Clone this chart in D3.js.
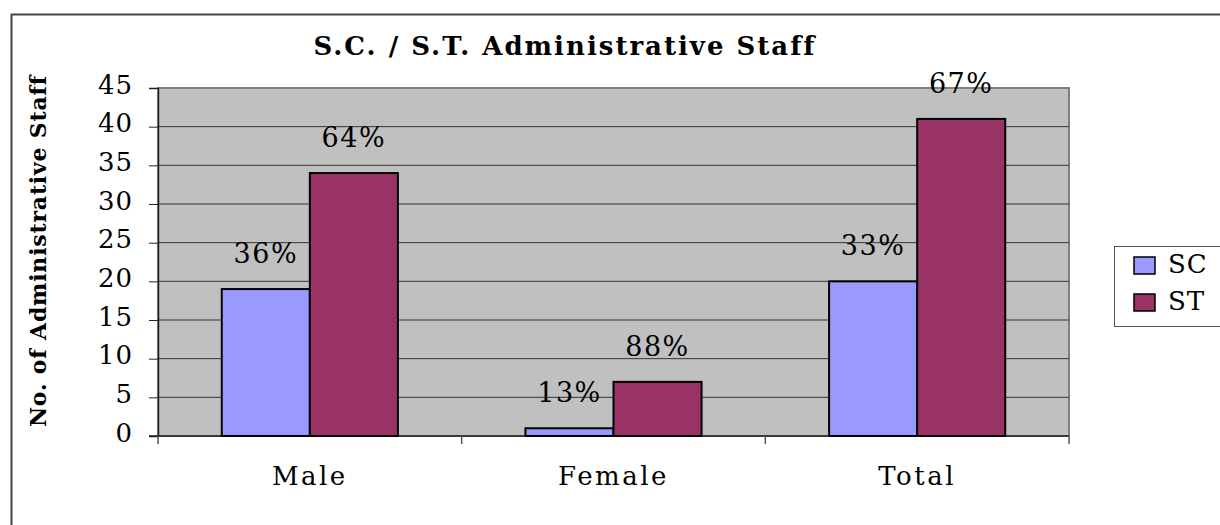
<!DOCTYPE html>
<meta charset="utf-8">
<head>
    <title>S.C. / S.T. Administrative Staff</title>
</head>
<style>
    body { margin: 0; background: #fff; }
    text { font-family: "DejaVu Serif", serif; fill: #000; }
</style>
<div id="chart"></div>
<script src="https://d3js.org/d3.v7.min.js"></script>
<script>

    var categories = ["Male", "Female", "Total"];
    var series = ["SC", "ST"];
    var scValues = [19, 1, 20];
    var stValues = [34, 7, 41];
    var scLabels = ["36%", "13%", "33%"];
    var stLabels = ["64%", "88%", "67%"];
    var yTicks = [0, 5, 10, 15, 20, 25, 30, 35, 40, 45];
    var colors = { SC: "#9999ff", ST: "#993366" };

    var W = 1220, H = 525;
    var plot = { left: 158, top: 88, right: 1069, bottom: 436 };
    var serif = "'DejaVu Serif', serif";

    var svg = d3.select("#chart").append("svg")
        .attr("width", W)
        .attr("height", H);

    // outer chart border (runs off the right/bottom edge)
    svg.append("rect")
        .attr("x", 11.5).attr("y", 14.5)
        .attr("width", 1230).attr("height", 540)
        .attr("fill", "none")
        .attr("stroke", "#444").attr("stroke-width", 2);

    var x0 = d3.scaleBand()
        .domain(categories)
        .range([plot.left, plot.right]);

    var x1 = d3.scaleBand()
        .domain(series)
        .range([0, x0.bandwidth() * 0.58])
        .paddingInner(0);

    var y = d3.scaleLinear()
        .domain([0, 45])
        .range([plot.bottom, plot.top]);

    // plot background
    svg.append("rect")
        .attr("x", plot.left).attr("y", plot.top)
        .attr("width", plot.right - plot.left)
        .attr("height", plot.bottom - plot.top)
        .attr("fill", "#c0c0c0")
        .attr("stroke", "#808080").attr("stroke-width", 2);

    // gridlines
    svg.append("g").selectAll("line")
        .data(yTicks.filter(function(d) { return d > 0 && d < 45; }))
        .join("line")
        .attr("x1", plot.left).attr("x2", plot.right)
        .attr("y1", function(d) { return y(d); })
        .attr("y2", function(d) { return y(d); })
        .attr("stroke", "#333").attr("stroke-width", 1);

    // y axis
    var yAxis = svg.append("g")
        .attr("transform", "translate(" + plot.left + ",0)")
        .call(d3.axisLeft(y).tickValues(yTicks).tickSize(9).tickPadding(16));
    yAxis.select(".domain").attr("stroke", "#222").attr("stroke-width", 1.5);
    yAxis.selectAll(".tick line").attr("stroke", "#222");
    yAxis.selectAll(".tick text")
        .style("font-family", serif)
        .style("font-size", "26px")
        .style("letter-spacing", "1px")
        .attr("dy", "0.2em")
        .attr("fill", "#000");

    // x axis
    var xAxis = svg.append("g")
        .attr("transform", "translate(0," + plot.bottom + ")")
        .call(d3.axisBottom(x0).tickSize(0));
    xAxis.select(".domain").remove();
    xAxis.selectAll(".tick text")
        .attr("y", 49)
        .attr("dy", null)
        .style("font-family", serif)
        .style("font-size", "26px")
        .style("letter-spacing", "2.5px")
        .attr("fill", "#000");
    svg.append("line")
        .attr("x1", plot.left - 9).attr("x2", plot.right)
        .attr("y1", plot.bottom).attr("y2", plot.bottom)
        .attr("stroke", "#222").attr("stroke-width", 1.5);
    // category separators
    svg.append("g").selectAll("line")
        .data(categories.concat(["end"]))
        .join("line")
        .attr("x1", function(d, i) { return plot.left + i * x0.bandwidth(); })
        .attr("x2", function(d, i) { return plot.left + i * x0.bandwidth(); })
        .attr("y1", plot.bottom).attr("y2", plot.bottom + 8)
        .attr("stroke", "#555").attr("stroke-width", 1.5);

    // bars
    var rows = categories.map(function(c, i) {
        return [
            { cat: c, key: "SC", value: scValues[i], label: scLabels[i] },
            { cat: c, key: "ST", value: stValues[i], label: stLabels[i] }
        ];
    });
    var groups = svg.append("g").selectAll("g")
        .data(rows)
        .join("g")
        .attr("transform", function(d) {
            return "translate(" + (x0(d[0].cat) + x0.bandwidth() * 0.21) + ",0)";
        });

    groups.selectAll("rect")
        .data(function(d) { return d; })
        .join("rect")
        .attr("x", function(d) { return x1(d.key); })
        .attr("y", function(d) { return y(d.value); })
        .attr("width", x1.bandwidth())
        .attr("height", function(d) { return y(0) - y(d.value); })
        .attr("fill", function(d) { return colors[d.key]; })
        .attr("stroke", "#000").attr("stroke-width", 2);

    groups.selectAll("text")
        .data(function(d) { return d; })
        .join("text")
        .attr("x", function(d) { return x1(d.key) + x1.bandwidth() / 2; })
        .attr("y", function(d) { return y(d.value) - 26; })
        .attr("text-anchor", "middle")
        .style("font-size", "27px")
        .style("letter-spacing", "1.5px")
        .text(function(d) { return d.label; });

    // title
    svg.append("text")
        .attr("x", 565).attr("y", 55)
        .attr("text-anchor", "middle")
        .style("font-size", "26px")
        .style("font-weight", "bold")
        .style("letter-spacing", "2px")
        .text("S.C. / S.T. Administrative Staff");

    // y axis title
    svg.append("text")
        .attr("transform", "translate(46,251) rotate(-90)")
        .attr("text-anchor", "middle")
        .style("font-size", "22px")
        .style("font-weight", "bold")
        .style("letter-spacing", "0.8px")
        .text("No. of Administrative Staff");

    // legend
    var legend = svg.append("g").attr("transform", "translate(1114,246)");
    legend.append("rect")
        .attr("x", 0.5).attr("y", 0.5)
        .attr("width", 120).attr("height", 80)
        .attr("fill", "#fff")
        .attr("stroke", "#555").attr("stroke-width", 1);
    legend.selectAll("g.item")
        .data(series)
        .join("g")
        .attr("class", "item")
        .attr("transform", function(d, i) { return "translate(20," + (11 + i * 37) + ")"; })
        .each(function(d) {
            var g = d3.select(this);
            g.append("rect")
                .attr("width", 21).attr("height", 17)
                .attr("fill", colors[d])
                .attr("stroke", "#000").attr("stroke-width", 1.5);
            g.append("text")
                .attr("x", 34).attr("y", 16)
                .style("font-size", "26px")
                .style("letter-spacing", "1px")
                .text(d);
        });
</script>
